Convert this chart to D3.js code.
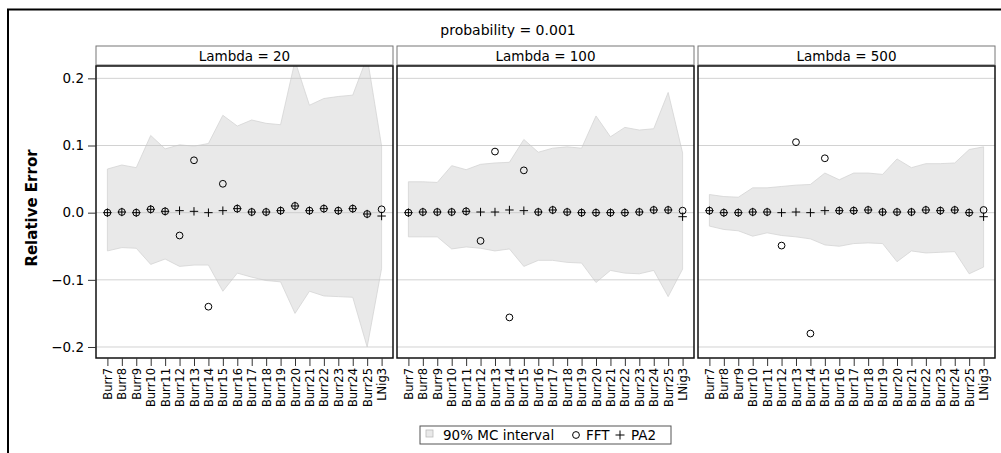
<!DOCTYPE html>
<html><head><meta charset="utf-8">
<script src="https://cdn.jsdelivr.net/npm/d3@7"></script>
<style>body{margin:0;background:#fff;} svg{display:block;font-family:"DejaVu Sans",Verdana,sans-serif;}</style>
</head><body>
<script>
const categories = ["Burr7","Burr8","Burr9","Burr10","Burr11","Burr12","Burr13","Burr14","Burr15","Burr16","Burr17","Burr18","Burr19","Burr20","Burr21","Burr22","Burr23","Burr24","Burr25","LNig3"];
const panelTitles = ["Lambda = 20","Lambda = 100","Lambda = 500"];
const yTicks = [-0.2,-0.1,0.0,0.1,0.2];

const upper20 = [0.065,0.071,0.067,0.115,0.095,0.101,0.099,0.103,0.145,0.129,0.138,0.133,0.131,0.226,0.160,0.170,0.173,0.175,0.232,0.099];
const lower20 = [-0.057,-0.052,-0.053,-0.077,-0.069,-0.080,-0.078,-0.078,-0.117,-0.090,-0.096,-0.101,-0.103,-0.150,-0.117,-0.124,-0.125,-0.126,-0.200,-0.083];
const fft20   = [0.000,0.001,0.000,0.005,0.002,-0.034,0.078,-0.140,0.043,0.006,0.001,0.001,0.003,0.010,0.003,0.006,0.003,0.006,-0.002,0.005];
const pa2_20  = [0.000,0.001,0.000,0.005,0.002,0.003,0.002,0.000,0.003,0.006,0.001,0.001,0.003,0.010,0.003,0.006,0.003,0.006,-0.002,-0.005];

const upper100 = [0.046,0.046,0.045,0.070,0.064,0.072,0.074,0.075,0.109,0.090,0.096,0.098,0.096,0.144,0.113,0.127,0.123,0.125,0.179,0.089];
const lower100 = [-0.036,-0.036,-0.036,-0.054,-0.051,-0.053,-0.057,-0.054,-0.080,-0.071,-0.071,-0.074,-0.075,-0.104,-0.086,-0.090,-0.091,-0.086,-0.125,-0.084];
const fft100   = [0.000,0.001,0.001,0.001,0.002,-0.042,0.091,-0.156,0.063,0.001,0.004,0.001,0.000,0.000,0.000,0.000,0.001,0.004,0.004,0.003];
const pa2_100  = [0.000,0.001,0.001,0.001,0.002,0.001,0.001,0.004,0.003,0.001,0.004,0.001,0.000,0.000,0.000,0.000,0.001,0.004,0.004,-0.006];

const upper500 = [0.027,0.024,0.023,0.037,0.037,0.039,0.041,0.042,0.059,0.049,0.059,0.059,0.057,0.080,0.067,0.073,0.073,0.074,0.094,0.098];
const lower500 = [-0.020,-0.025,-0.027,-0.035,-0.030,-0.034,-0.036,-0.039,-0.048,-0.050,-0.046,-0.045,-0.046,-0.073,-0.057,-0.060,-0.059,-0.058,-0.091,-0.081];
const fft500   = [0.003,0.000,0.000,0.001,0.001,-0.049,0.105,-0.180,0.081,0.003,0.003,0.004,0.001,0.001,0.001,0.004,0.003,0.004,0.000,0.004];
const pa2_500  = [0.003,0.000,0.000,0.001,0.001,0.000,0.001,0.000,0.003,0.003,0.003,0.004,0.001,0.001,0.001,0.004,0.003,0.004,0.000,-0.006];

const panels = [
  {title: panelTitles[0], upper: upper20, lower: lower20, fft: fft20, pa2: pa2_20},
  {title: panelTitles[1], upper: upper100, lower: lower100, fft: fft100, pa2: pa2_100},
  {title: panelTitles[2], upper: upper500, lower: lower500, fft: fft500, pa2: pa2_500}
];

const W = 1001, H = 453;
const svg = d3.select("body").append("svg").attr("width", W).attr("height", H);

// outer border
svg.append("rect").attr("x", 8).attr("y", 9.5).attr("width", 1100).attr("height", 600)
  .attr("fill", "none").attr("stroke", "#000").attr("stroke-width", 2);

svg.append("text").attr("x", 508).attr("y", 35).attr("text-anchor", "middle")
  .attr("font-size", 14).text("probability = 0.001");

const plotTop = 66, plotBottom = 358, stripTop = 46;
const panelLeft = [96, 397, 698], panelW = 297;

const y = d3.scaleLinear().domain([-0.2164, 0.2184]).range([plotBottom, plotTop]);

// y label
svg.append("text").attr("transform", "translate(37,208) rotate(-90)")
  .attr("text-anchor", "middle").attr("font-size", 15).attr("font-weight", "bold")
  .text("Relative Error");

const defs = svg.append("defs");

panels.forEach((p, i) => {
  const x0 = panelLeft[i];
  const x = d3.scalePoint().domain(categories).range([x0, x0 + panelW]).padding(0.79);
  const g = svg.append("g");
  defs.append("clipPath").attr("id", "clip" + i).append("rect")
    .attr("x", x0).attr("y", plotTop).attr("width", panelW).attr("height", plotBottom - plotTop);

  // strip
  g.append("rect").attr("x", x0).attr("y", stripTop).attr("width", panelW).attr("height", plotTop - stripTop - 1)
    .attr("fill", "#fff").attr("stroke", "#777").attr("stroke-width", 1);
  g.append("text").attr("x", x0 + panelW / 2).attr("y", 60.5).attr("text-anchor", "middle")
    .attr("font-size", 13.5).text(p.title);

  const inner = g.append("g").attr("clip-path", `url(#clip${i})`);
  const area = d3.area().x((d, j) => x(categories[j])).y0((d, j) => y(p.lower[j])).y1(d => y(d));
  inner.append("path").datum(p.upper).attr("d", area)
    .attr("fill", "#e9e9e9").attr("stroke", "#d4d4d4").attr("stroke-width", 0.8);

  // grid lines
  inner.selectAll(".grid").data(yTicks).enter().append("line")
    .attr("x1", x0).attr("x2", x0 + panelW).attr("y1", d => y(d)).attr("y2", d => y(d))
    .attr("stroke", "#c8c8c8").attr("stroke-width", 1).attr("opacity", 0.8);

  // FFT circles
  inner.selectAll(".fft").data(p.fft).enter().append("circle")
    .attr("cx", (d, j) => x(categories[j])).attr("cy", d => y(d)).attr("r", 3.4)
    .attr("fill", "none").attr("stroke", "#000").attr("stroke-width", 1);
  // PA2 plus
  inner.selectAll(".pa2").data(p.pa2).enter().append("path")
    .attr("d", (d, j) => {
      const cx = x(categories[j]), cy = y(d), s = 4.2;
      return `M${cx - s},${cy}H${cx + s}M${cx},${cy - s}V${cy + s}`;
    })
    .attr("stroke", "#000").attr("stroke-width", 1).attr("fill", "none");

  // frame
  g.append("rect").attr("x", x0).attr("y", plotTop).attr("width", panelW).attr("height", plotBottom - plotTop)
    .attr("fill", "none").attr("stroke", "#111").attr("stroke-width", 1.5);

  // x axis
  const xa = g.append("g").attr("transform", `translate(0,${plotBottom})`)
    .call(d3.axisBottom(x).tickSize(8).tickSizeOuter(0));
  xa.select(".domain").remove();
  xa.selectAll(".tick line").attr("stroke", "#333");
  xa.selectAll(".tick text").attr("font-size", 11.5).attr("font-family", "DejaVu Sans, Verdana, sans-serif")
    .attr("fill", "#000")
    .attr("transform", "rotate(-90)").attr("text-anchor", "end")
    .attr("x", -10).attr("y", 0).attr("dy", "0.35em");

  if (i === 0) {
    const ya = g.append("g").attr("transform", `translate(${x0},0)`)
      .call(d3.axisLeft(y).tickValues(yTicks).tickFormat(d3.format(".1f")).tickSize(8).tickPadding(4));
    ya.select(".domain").remove();
    ya.selectAll(".tick line").attr("stroke", "#333");
    ya.selectAll(".tick text").attr("font-size", 13.5).attr("font-family", "DejaVu Sans, Verdana, sans-serif").attr("fill", "#000");
  }
});

// legend
const lg = svg.append("g");
lg.append("rect").attr("x", 420).attr("y", 426).attr("width", 251).attr("height", 18)
  .attr("fill", "#fff").attr("stroke", "#555").attr("stroke-width", 1);
lg.append("rect").attr("x", 426).attr("y", 430).attr("width", 7).attr("height", 7)
  .attr("fill", "#e9e9e9").attr("stroke", "#bbb").attr("stroke-width", 0.8);
lg.append("text").attr("x", 443).attr("y", 440).attr("font-size", 13.5).text("90% MC interval");
lg.append("circle").attr("cx", 576).attr("cy", 435).attr("r", 3.4).attr("fill", "none").attr("stroke", "#000");
lg.append("text").attr("x", 586).attr("y", 440).attr("font-size", 13.5).text("FFT");
lg.append("path").attr("d", "M615.5,435H624.5M620,430.5V439.5").attr("stroke", "#000").attr("stroke-width", 1);
lg.append("text").attr("x", 631).attr("y", 440).attr("font-size", 13.5).text("PA2");
</script>
</body></html>
